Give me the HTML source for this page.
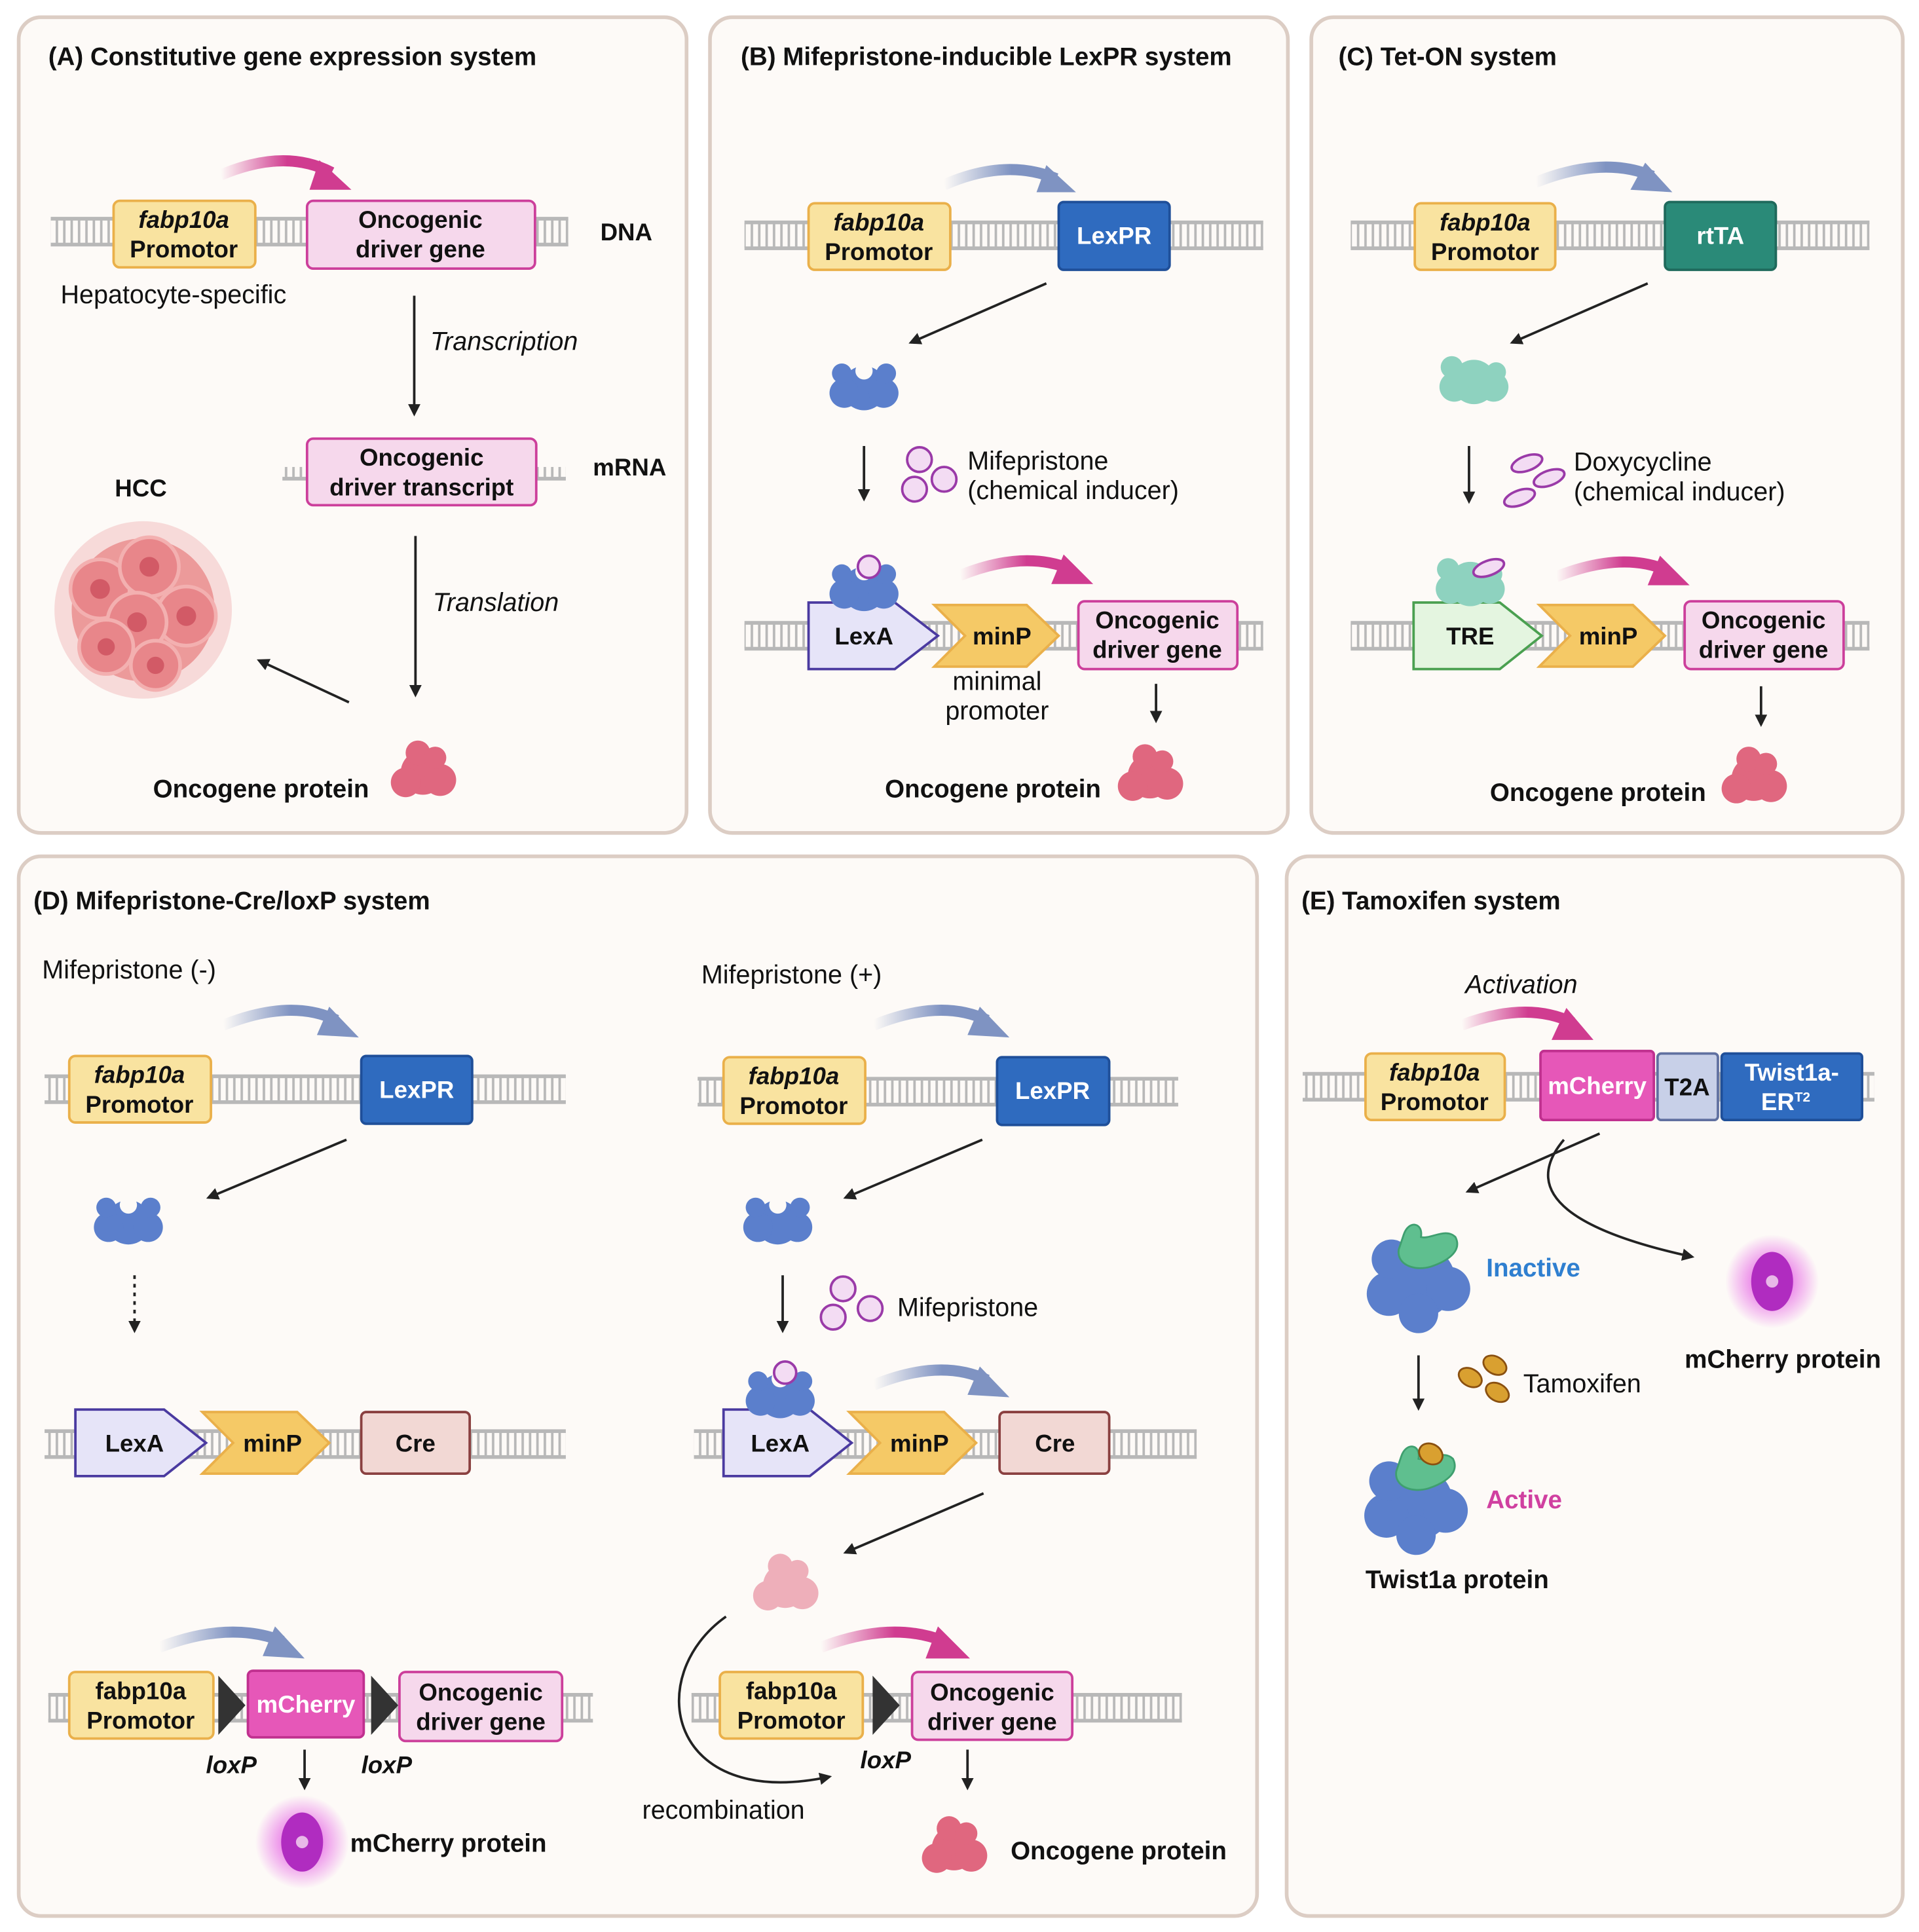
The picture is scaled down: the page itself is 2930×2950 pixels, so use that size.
<!DOCTYPE html>
<html><head><meta charset="utf-8"><style>
html,body{margin:0;padding:0;background:#fff;}
svg{display:block;}
text{font-family:"Liberation Sans",sans-serif;fill:#111;}
.t{font-size:20.5px;font-weight:bold;}
.b{font-size:19.5px;font-weight:bold;}
.r{font-size:21px;}
.i{font-size:21px;font-style:italic;}
.c{text-anchor:middle;}
</style></head><body>
<svg width="2930" height="2950" viewBox="0 0 1555 1568" xmlns="http://www.w3.org/2000/svg">
<defs>
<pattern id="tick" width="6" height="20" patternUnits="userSpaceOnUse"><rect x="2" y="0" width="2" height="20" fill="#b8b8b8"/></pattern>
<linearGradient id="gp" x1="0" x2="1"><stop offset="0" stop-color="#d03c90" stop-opacity="0"/><stop offset="0.6" stop-color="#d03c90"/></linearGradient>
<linearGradient id="gb" x1="0" x2="1"><stop offset="0" stop-color="#7f93c2" stop-opacity="0"/><stop offset="0.6" stop-color="#7f93c2"/></linearGradient>
<marker id="ah" markerWidth="10" markerHeight="10" refX="8" refY="5" orient="auto" markerUnits="userSpaceOnUse"><path d="M0,0 L10,5 L0,10 Z" fill="#222"/></marker>
<radialGradient id="glow"><stop offset="0.3" stop-color="#e040e0" stop-opacity="0.7"/><stop offset="1" stop-color="#e040e0" stop-opacity="0"/></radialGradient>
<g id="bprot">
<circle cx="0" cy="0" r="18" fill="#5b7fcc"/><circle cx="-16" cy="4" r="12" fill="#5b7fcc"/><circle cx="16" cy="4" r="12" fill="#5b7fcc"/><circle cx="-18" cy="-12" r="8" fill="#5b7fcc"/><circle cx="18" cy="-12" r="8" fill="#5b7fcc"/><circle cx="0" cy="-14" r="7" fill="#fdfaf7"/>
</g>
<g id="pprot">
<circle cx="0" cy="0" r="18" fill="#e0677f"/><circle cx="-14" cy="8" r="12" fill="#e0677f"/><circle cx="14" cy="6" r="13" fill="#e0677f"/><circle cx="-4" cy="-16" r="10" fill="#e0677f"/><circle cx="10" cy="-12" r="9" fill="#e0677f"/>
</g>
<g id="tprot">
<circle cx="0" cy="0" r="18" fill="#8ed2bf"/><circle cx="-16" cy="4" r="12" fill="#8ed2bf"/><circle cx="16" cy="4" r="12" fill="#8ed2bf"/><circle cx="-18" cy="-12" r="9" fill="#8ed2bf"/><circle cx="18" cy="-8" r="8" fill="#8ed2bf"/>
</g>
<g id="mprot">
<circle cx="0" cy="0" r="38" fill="url(#glow)"/>
<ellipse cx="0" cy="0" rx="17" ry="24" fill="#b02cc0"/><circle cx="0" cy="0" r="5" fill="#e8b8e8"/>
</g>
<g id="twist">
<circle cx="0" cy="10" r="30" fill="#5b7fcc"/><circle cx="-24" cy="20" r="18" fill="#5b7fcc"/><circle cx="24" cy="16" r="18" fill="#5b7fcc"/><circle cx="-22" cy="-8" r="16" fill="#5b7fcc"/><circle cx="0" cy="36" r="16" fill="#5b7fcc"/>
<path d="M-12,-28 C-8,-40 4,-38 2,-26 C10,-24 22,-34 30,-26 C36,-14 22,-6 10,-2 C-4,2 -18,-4 -16,-16 Z" fill="#5fbf8f" stroke="#3f9f6f" stroke-width="1.5"/>
</g>
</defs>

<rect width="1555" height="1568" fill="#fff"/>
<g fill="#fdfaf7" stroke="#dccdc4" stroke-width="3">
<rect x="14" y="14" width="542" height="662" rx="18"/>
<rect x="575" y="14" width="469" height="662" rx="18"/>
<rect x="1063" y="14" width="480" height="662" rx="18"/>
<rect x="14" y="695" width="1005" height="860" rx="18"/>
<rect x="1043" y="695" width="500" height="860" rx="18"/>
</g>

<!-- A -->
<text x="38" y="53" class="t">(A) Constitutive gene expression system</text>
<rect x="40" y="178" width="420" height="20" fill="url(#tick)"/>
<rect x="40" y="176" width="420" height="3" fill="#b8b8b8"/><rect x="40" y="197" width="420" height="3" fill="#b8b8b8"/>
<path d="M178,142 Q230,120 268,140" fill="none" stroke="url(#gp)" stroke-width="9"/>
<polygon points="258,130 284,154 250,154" fill="#d03c90"/>
<rect x="91" y="163" width="115" height="54" rx="5" fill="#f9e3a0" stroke="#eab04a" stroke-width="2"/>
<text x="148" y="185" class="b c" font-style="italic">fabp10a</text><text x="148" y="209" class="b c">Promotor</text>
<rect x="248" y="163" width="185" height="55" rx="5" fill="#f6d8ec" stroke="#cc3f9b" stroke-width="2"/>
<text x="340" y="185" class="b c">Oncogenic</text><text x="340" y="209" class="b c">driver gene</text>
<text x="486" y="195" class="b">DNA</text>
<text x="48" y="246" class="r">Hepatocyte-specific</text>
<line x1="335" y1="240" x2="335" y2="336" stroke="#222" stroke-width="2" marker-end="url(#ah)"/>
<text x="348" y="284" class="i">Transcription</text>
<rect x="228" y="379" width="230" height="10" fill="url(#tick)"/><rect x="228" y="387" width="230" height="3" fill="#b8b8b8"/>
<rect x="248" y="356" width="186" height="54" rx="5" fill="#f6d8ec" stroke="#cc3f9b" stroke-width="2"/>
<text x="341" y="378" class="b c">Oncogenic</text><text x="341" y="402" class="b c">driver transcript</text>
<text x="480" y="386" class="b">mRNA</text>
<line x1="336" y1="435" x2="336" y2="564" stroke="#222" stroke-width="2" marker-end="url(#ah)"/>
<text x="350" y="496" class="i">Translation</text>
<text x="92" y="403" class="b">HCC</text>
<g>
<circle cx="115" cy="495" r="72" fill="#f4c4c4" opacity="0.6"/>
<circle cx="115" cy="495" r="58" fill="#ec9a9a"/>
<circle cx="80" cy="478" r="24" fill="#e8868a" stroke="#f3b0b0" stroke-width="3"/><circle cx="120" cy="460" r="24" fill="#e8868a" stroke="#f3b0b0" stroke-width="3"/><circle cx="150" cy="500" r="24" fill="#e8868a" stroke="#f3b0b0" stroke-width="3"/><circle cx="110" cy="505" r="24" fill="#e8868a" stroke="#f3b0b0" stroke-width="3"/><circle cx="85" cy="525" r="22" fill="#e8868a" stroke="#f3b0b0" stroke-width="3"/><circle cx="125" cy="540" r="20" fill="#e8868a" stroke="#f3b0b0" stroke-width="3"/>
<g fill="#d25a66"><circle cx="80" cy="478" r="8"/><circle cx="120" cy="460" r="8"/><circle cx="150" cy="500" r="8"/><circle cx="110" cy="505" r="8"/><circle cx="85" cy="525" r="7"/><circle cx="125" cy="540" r="7"/></g>
</g>
<line x1="282" y1="570" x2="209" y2="536" stroke="#222" stroke-width="2" marker-end="url(#ah)"/>
<text x="123" y="647" class="t">Oncogene protein</text>
<use href="#pprot" x="342" y="627"/>

<!-- B -->
<text x="600" y="53" class="t">(B) Mifepristone-inducible LexPR system</text>
<rect x="603" y="181" width="421" height="20" fill="url(#tick)"/>
<rect x="603" y="179" width="421" height="3" fill="#b8b8b8"/><rect x="603" y="200" width="421" height="3" fill="#b8b8b8"/>
<path d="M765,150 Q815,128 856,145" fill="none" stroke="url(#gb)" stroke-width="9"/>
<polygon points="848,134 872,156 840,156" fill="#7f93c2"/>
<rect x="655" y="165" width="115" height="54" rx="5" fill="#f9e3a0" stroke="#eab04a" stroke-width="2"/>
<text x="712" y="187" class="b c" font-style="italic">fabp10a</text><text x="712" y="211" class="b c">Promotor</text>
<rect x="858" y="164" width="90" height="55" rx="4" fill="#2f6bbf" stroke="#1f4f99" stroke-width="2"/>
<text x="903" y="198" class="b c" style="fill:#fff">LexPR</text>
<line x1="848" y1="230" x2="738" y2="278" stroke="#222" stroke-width="2" marker-end="url(#ah)"/>
<use href="#bprot" x="700" y="315"/>
<line x1="700" y1="362" x2="700" y2="405" stroke="#222" stroke-width="2" marker-end="url(#ah)"/>
<g fill="#f3dcf3" stroke="#9a3aa8" stroke-width="2"><circle cx="745" cy="373" r="10"/><circle cx="741" cy="397" r="10"/><circle cx="765" cy="389" r="10"/></g>
<text x="784" y="381" class="r">Mifepristone</text><text x="784" y="405" class="r">(chemical inducer)</text>
<rect x="603" y="506" width="421" height="20" fill="url(#tick)"/>
<rect x="603" y="504" width="421" height="3" fill="#b8b8b8"/><rect x="603" y="525" width="421" height="3" fill="#b8b8b8"/>
<polygon points="655,489 725,489 760,516 725,543 655,543" fill="#e6e4f8" stroke="#4a3aa0" stroke-width="2"/>
<use href="#bprot" x="700" y="478"/>
<circle cx="704" cy="460" r="9" fill="#f3dcf3" stroke="#9a3aa8" stroke-width="2"/>
<text x="700" y="523" class="b c">LexA</text>
<polygon points="757,491 832,491 858,516 832,541 757,541 782,516" fill="#f5c966" stroke="#eab04a" stroke-width="2"/>
<text x="812" y="523" class="b c">minP</text>
<path d="M778,467 Q830,446 868,462" fill="none" stroke="url(#gp)" stroke-width="9"/>
<polygon points="862,450 886,474 852,474" fill="#d03c90"/>
<rect x="874" y="488" width="129" height="55" rx="5" fill="#f6d8ec" stroke="#cc3f9b" stroke-width="2"/>
<text x="938" y="510" class="b c">Oncogenic</text><text x="938" y="534" class="b c">driver gene</text>
<text x="808" y="560" class="r c">minimal</text><text x="808" y="584" class="r c">promoter</text>
<line x1="937" y1="555" x2="937" y2="585" stroke="#222" stroke-width="2" marker-end="url(#ah)"/>
<text x="717" y="647" class="t">Oncogene protein</text>
<use href="#pprot" x="932" y="630"/>

<!-- C -->
<text x="1085" y="53" class="t">(C) Tet-ON system</text>
<rect x="1095" y="181" width="421" height="20" fill="url(#tick)"/>
<rect x="1095" y="179" width="421" height="3" fill="#b8b8b8"/><rect x="1095" y="200" width="421" height="3" fill="#b8b8b8"/>
<path d="M1245,148 Q1300,126 1340,143" fill="none" stroke="url(#gb)" stroke-width="9"/>
<polygon points="1334,132 1356,156 1322,154" fill="#7f93c2"/>
<rect x="1147" y="165" width="114" height="54" rx="5" fill="#f9e3a0" stroke="#eab04a" stroke-width="2"/>
<text x="1204" y="187" class="b c" font-style="italic">fabp10a</text><text x="1204" y="211" class="b c">Promotor</text>
<rect x="1350" y="164" width="90" height="55" rx="4" fill="#2a8a78" stroke="#1f6a5c" stroke-width="2"/>
<text x="1395" y="198" class="b c" style="fill:#fff">rtTA</text>
<line x1="1336" y1="230" x2="1226" y2="278" stroke="#222" stroke-width="2" marker-end="url(#ah)"/>
<use href="#tprot" x="1195" y="310"/>
<line x1="1191" y1="362" x2="1191" y2="407" stroke="#222" stroke-width="2" marker-end="url(#ah)"/>
<g fill="#f3dcf3" stroke="#9a3aa8" stroke-width="2"><ellipse cx="1238" cy="376" rx="13" ry="6" transform="rotate(-20 1238 376)"/><ellipse cx="1256" cy="388" rx="13" ry="6" transform="rotate(-20 1256 388)"/><ellipse cx="1232" cy="404" rx="13" ry="6" transform="rotate(-20 1232 404)"/></g>
<text x="1276" y="382" class="r">Doxycycline</text><text x="1276" y="406" class="r">(chemical inducer)</text>
<rect x="1095" y="506" width="421" height="20" fill="url(#tick)"/>
<rect x="1095" y="504" width="421" height="3" fill="#b8b8b8"/><rect x="1095" y="525" width="421" height="3" fill="#b8b8b8"/>
<polygon points="1146,489 1216,489 1250,516 1216,543 1146,543" fill="#e4f5e0" stroke="#4aa050" stroke-width="2"/>
<use href="#tprot" x="1192" y="474"/>
<ellipse cx="1207" cy="461" rx="13" ry="6" transform="rotate(-20 1207 461)" fill="#f3dcf3" stroke="#9a3aa8" stroke-width="2"/>
<text x="1192" y="523" class="b c">TRE</text>
<polygon points="1248,491 1324,491 1350,516 1324,541 1248,541 1273,516" fill="#f5c966" stroke="#eab04a" stroke-width="2"/>
<text x="1304" y="523" class="b c">minP</text>
<path d="M1262,468 Q1315,447 1352,463" fill="none" stroke="url(#gp)" stroke-width="9"/>
<polygon points="1346,451 1370,475 1336,475" fill="#d03c90"/>
<rect x="1366" y="488" width="129" height="55" rx="5" fill="#f6d8ec" stroke="#cc3f9b" stroke-width="2"/>
<text x="1430" y="510" class="b c">Oncogenic</text><text x="1430" y="534" class="b c">driver gene</text>
<line x1="1428" y1="557" x2="1428" y2="588" stroke="#222" stroke-width="2" marker-end="url(#ah)"/>
<text x="1208" y="650" class="t">Oncogene protein</text>
<use href="#pprot" x="1422" y="632"/>

<!-- D -->
<text x="26" y="738" class="t">(D) Mifepristone-Cre/loxP system</text>
<text x="33" y="794" class="r">Mifepristone (-)</text>
<rect x="35" y="874" width="423" height="20" fill="url(#tick)"/>
<rect x="35" y="872" width="423" height="3" fill="#b8b8b8"/><rect x="35" y="893" width="423" height="3" fill="#b8b8b8"/>
<path d="M180,832 Q235,810 272,828" fill="none" stroke="url(#gb)" stroke-width="9"/>
<polygon points="266,817 290,842 256,840" fill="#7f93c2"/>
<rect x="55" y="857" width="115" height="54" rx="5" fill="#f9e3a0" stroke="#eab04a" stroke-width="2"/>
<text x="112" y="879" class="b c" font-style="italic">fabp10a</text><text x="112" y="903" class="b c">Promotor</text>
<rect x="292" y="857" width="90" height="55" rx="4" fill="#2f6bbf" stroke="#1f4f99" stroke-width="2"/>
<text x="337" y="891" class="b c" style="fill:#fff">LexPR</text>
<line x1="280" y1="925" x2="168" y2="972" stroke="#222" stroke-width="2" marker-end="url(#ah)"/>
<use href="#bprot" x="103" y="992"/>
<line x1="108" y1="1035" x2="108" y2="1080" stroke="#222" stroke-width="2" stroke-dasharray="3,4" marker-end="url(#ah)"/>
<rect x="35" y="1162" width="423" height="20" fill="url(#tick)"/>
<rect x="35" y="1160" width="423" height="3" fill="#b8b8b8"/><rect x="35" y="1181" width="423" height="3" fill="#b8b8b8"/>
<polygon points="60,1144 132,1144 166,1171 132,1198 60,1198" fill="#e6e4f8" stroke="#4a3aa0" stroke-width="2"/>
<text x="108" y="1178" class="b c">LexA</text>
<polygon points="163,1146 240,1146 266,1171 240,1196 163,1196 188,1171" fill="#f5c966" stroke="#eab04a" stroke-width="2"/>
<text x="220" y="1178" class="b c">minP</text>
<rect x="292" y="1146" width="88" height="50" rx="4" fill="#f2d8d4" stroke="#8a4040" stroke-width="2"/>
<text x="336" y="1178" class="b c">Cre</text>
<rect x="38" y="1376" width="442" height="20" fill="url(#tick)"/>
<rect x="38" y="1374" width="442" height="3" fill="#b8b8b8"/><rect x="38" y="1395" width="442" height="3" fill="#b8b8b8"/>
<path d="M128,1337 Q185,1315 228,1332" fill="none" stroke="url(#gb)" stroke-width="9"/>
<polygon points="222,1320 246,1346 212,1344" fill="#7f93c2"/>
<rect x="55" y="1357" width="117" height="54" rx="5" fill="#f9e3a0" stroke="#eab04a" stroke-width="2"/>
<text x="113" y="1379" class="b c">fabp10a</text><text x="113" y="1403" class="b c">Promotor</text>
<polygon points="176,1360 198,1384 176,1408" fill="#333"/>
<rect x="200" y="1356" width="94" height="54" rx="4" fill="#e657b8" stroke="#c0308f" stroke-width="2"/>
<text x="247" y="1390" class="b c" style="fill:#fff">mCherry</text>
<polygon points="300,1360 322,1384 300,1408" fill="#333"/>
<rect x="323" y="1357" width="132" height="56" rx="5" fill="#f6d8ec" stroke="#cc3f9b" stroke-width="2"/>
<text x="389" y="1380" class="b c">Oncogenic</text><text x="389" y="1404" class="b c">driver gene</text>
<text x="166" y="1439" class="b" font-style="italic">loxP</text><text x="292" y="1439" class="b" font-style="italic">loxP</text>
<line x1="246" y1="1420" x2="246" y2="1451" stroke="#222" stroke-width="2" marker-end="url(#ah)"/>
<use href="#mprot" x="244" y="1495"/>
<text x="283" y="1503" class="t">mCherry protein</text>

<text x="568" y="798" class="r">Mifepristone (+)</text>
<rect x="565" y="876" width="390" height="20" fill="url(#tick)"/>
<rect x="565" y="874" width="390" height="3" fill="#b8b8b8"/><rect x="565" y="895" width="390" height="3" fill="#b8b8b8"/>
<path d="M708,832 Q762,810 800,828" fill="none" stroke="url(#gb)" stroke-width="9"/>
<polygon points="794,817 818,842 784,840" fill="#7f93c2"/>
<rect x="586" y="858" width="115" height="54" rx="5" fill="#f9e3a0" stroke="#eab04a" stroke-width="2"/>
<text x="643" y="880" class="b c" font-style="italic">fabp10a</text><text x="643" y="904" class="b c">Promotor</text>
<rect x="808" y="858" width="91" height="55" rx="4" fill="#2f6bbf" stroke="#1f4f99" stroke-width="2"/>
<text x="853" y="892" class="b c" style="fill:#fff">LexPR</text>
<line x1="796" y1="925" x2="685" y2="972" stroke="#222" stroke-width="2" marker-end="url(#ah)"/>
<use href="#bprot" x="630" y="992"/>
<line x1="634" y1="1035" x2="634" y2="1080" stroke="#222" stroke-width="2" marker-end="url(#ah)"/>
<g fill="#f3dcf3" stroke="#9a3aa8" stroke-width="2"><circle cx="683" cy="1046" r="10"/><circle cx="675" cy="1069" r="10"/><circle cx="705" cy="1062" r="10"/></g>
<text x="727" y="1068" class="r">Mifepristone</text>
<rect x="562" y="1162" width="408" height="20" fill="url(#tick)"/>
<rect x="562" y="1160" width="408" height="3" fill="#b8b8b8"/><rect x="562" y="1181" width="408" height="3" fill="#b8b8b8"/>
<polygon points="586,1144 656,1144 690,1171 656,1198 586,1198" fill="#e6e4f8" stroke="#4a3aa0" stroke-width="2"/>
<use href="#bprot" x="632" y="1133"/>
<circle cx="636" cy="1114" r="9" fill="#f3dcf3" stroke="#9a3aa8" stroke-width="2"/>
<text x="632" y="1178" class="b c">LexA</text>
<polygon points="688,1146 765,1146 791,1171 765,1196 688,1196 713,1171" fill="#f5c966" stroke="#eab04a" stroke-width="2"/>
<text x="745" y="1178" class="b c">minP</text>
<path d="M708,1124 Q762,1102 800,1120" fill="none" stroke="url(#gb)" stroke-width="9"/>
<polygon points="794,1109 818,1134 784,1132" fill="#7f93c2"/>
<rect x="810" y="1146" width="89" height="50" rx="4" fill="#f2d8d4" stroke="#8a4040" stroke-width="2"/>
<text x="855" y="1178" class="b c">Cre</text>
<line x1="797" y1="1212" x2="685" y2="1260" stroke="#222" stroke-width="2" marker-end="url(#ah)"/>
<g opacity="0.5"><use href="#pprot" x="636" y="1287"/></g>
<path d="M588,1312 C520,1360 540,1470 672,1442" fill="none" stroke="#222" stroke-width="2" marker-end="url(#ah)"/>
<text x="520" y="1476" class="r">recombination</text>
<rect x="560" y="1376" width="398" height="20" fill="url(#tick)"/>
<rect x="560" y="1374" width="398" height="3" fill="#b8b8b8"/><rect x="560" y="1395" width="398" height="3" fill="#b8b8b8"/>
<path d="M665,1337 Q722,1315 765,1332" fill="none" stroke="url(#gp)" stroke-width="9"/>
<polygon points="760,1320 786,1346 750,1346" fill="#d03c90"/>
<rect x="583" y="1357" width="116" height="54" rx="5" fill="#f9e3a0" stroke="#eab04a" stroke-width="2"/>
<text x="641" y="1379" class="b c">fabp10a</text><text x="641" y="1403" class="b c">Promotor</text>
<polygon points="707,1360 729,1384 707,1408" fill="#333"/>
<rect x="739" y="1357" width="130" height="55" rx="5" fill="#f6d8ec" stroke="#cc3f9b" stroke-width="2"/>
<text x="804" y="1380" class="b c">Oncogenic</text><text x="804" y="1404" class="b c">driver gene</text>
<text x="697" y="1435" class="b" font-style="italic">loxP</text>
<line x1="784" y1="1420" x2="784" y2="1451" stroke="#222" stroke-width="2" marker-end="url(#ah)"/>
<use href="#pprot" x="773" y="1500"/>
<text x="819" y="1509" class="t">Oncogene protein</text>

<!-- E -->
<text x="1055" y="738" class="t">(E) Tamoxifen system</text>
<text x="1188" y="806" class="i">Activation</text>
<rect x="1056" y="872" width="464" height="20" fill="url(#tick)"/>
<rect x="1056" y="870" width="464" height="3" fill="#b8b8b8"/><rect x="1056" y="891" width="464" height="3" fill="#b8b8b8"/>
<path d="M1185,832 Q1238,812 1275,830" fill="none" stroke="url(#gp)" stroke-width="9"/>
<polygon points="1270,818 1292,844 1258,844" fill="#d03c90"/>
<rect x="1107" y="855" width="113" height="54" rx="5" fill="#f9e3a0" stroke="#eab04a" stroke-width="2"/>
<text x="1163" y="877" class="b c" font-style="italic">fabp10a</text><text x="1163" y="901" class="b c">Promotor</text>
<rect x="1249" y="853" width="92" height="56" rx="3" fill="#e657b8" stroke="#c0308f" stroke-width="2"/>
<text x="1295" y="888" class="b c" style="fill:#fff">mCherry</text>
<rect x="1344" y="855" width="49" height="54" rx="3" fill="#c8d0e8" stroke="#6070a0" stroke-width="2"/>
<text x="1368" y="889" class="b c">T2A</text>
<rect x="1396" y="855" width="114" height="54" rx="3" fill="#2f6bbf" stroke="#1f4f99" stroke-width="2"/>
<text x="1453" y="877" class="b c" style="fill:#fff">Twist1a-</text>
<text x="1448" y="901" class="b c" style="fill:#fff">ER<tspan font-size="11" dy="-7" style="fill:#fff">T2</tspan></text>
<line x1="1297" y1="920" x2="1190" y2="967" stroke="#222" stroke-width="2" marker-end="url(#ah)"/>
<path d="M1268,925 C1230,970 1280,1000 1372,1020" fill="none" stroke="#222" stroke-width="2" marker-end="url(#ah)"/>
<use href="#twist" x="1150" y="1030"/>
<text x="1205" y="1036" class="t" style="fill:#2f7fd0">Inactive</text>
<use href="#mprot" x="1437" y="1040"/>
<text x="1366" y="1110" class="t">mCherry protein</text>
<line x1="1150" y1="1100" x2="1150" y2="1143" stroke="#222" stroke-width="2" marker-end="url(#ah)"/>
<g fill="#d9a030" stroke="#8a5010" stroke-width="1.5"><ellipse cx="1212" cy="1108" rx="10" ry="7" transform="rotate(30 1212 1108)"/><ellipse cx="1192" cy="1118" rx="10" ry="7" transform="rotate(30 1192 1118)"/><ellipse cx="1214" cy="1130" rx="10" ry="7" transform="rotate(30 1214 1130)"/></g>
<text x="1235" y="1130" class="r">Tamoxifen</text>
<use href="#twist" x="1148" y="1210"/>
<ellipse cx="1160" cy="1180" rx="10" ry="8" transform="rotate(30 1160 1180)" fill="#d9a030" stroke="#8a5010" stroke-width="1.5"/>
<text x="1205" y="1224" class="t" style="fill:#d040a0">Active</text>
<text x="1107" y="1289" class="t">Twist1a protein</text>
</svg>
</body></html>
